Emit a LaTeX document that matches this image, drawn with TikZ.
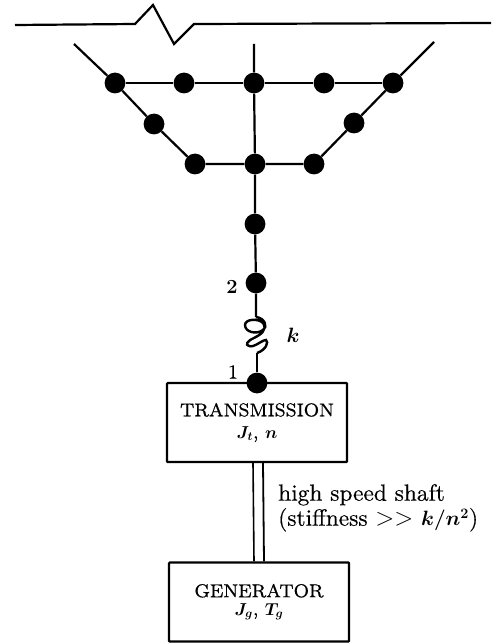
\documentclass[tikz,border=0pt]{standalone}
\usepackage{amsmath}
\usepackage{fontspec}
\newfontfamily\capfont{lmroman8-regular.otf}[FakeBold=0.7]
\newfontfamily\bodyfont{lmroman10-regular.otf}[FakeBold=0.4]
\tikzset{
  dot/.style={circle,fill=black,draw=none,inner sep=0pt,minimum size=20.8pt},
  wire/.style={line width=2.2pt,black},
  blockbox/.style={draw=black,line width=2.2pt,rounded corners=0.8pt,minimum width=180pt,minimum height=79pt,inner sep=0pt,align=center,font=\capfont\fontsize{18.6}{19}\selectfont},
  lab/.style={inner sep=0pt,font=\bodyfont\fontsize{23.4}{25}\selectfont,align=left}
}
\begin{document}
\begin{tikzpicture}[x=1pt,y=-1pt]
\useasboundingbox (0,0) rectangle (491,644);
% break line
\coordinate (b0) at (15,25); \coordinate (b1) at (135,24); \coordinate (b2) at (153,5);
\coordinate (b3) at (174,44); \coordinate (b4) at (194,24); \coordinate (b5) at (491,23);
\draw[wire,line join=miter] (b0)--(b1)--(b2)--(b3)--(b4)--(b5);
% free ends
\coordinate (la) at (74,44); \coordinate (ra) at (434,42); \coordinate (ca) at (254,44);
% boxes
\node[blockbox] (trans) at (257,422.5) {TRANSMISSION\\[3pt]$\boldsymbol{J_t}$, $\boldsymbol{n}$};
\node[blockbox] (gen) at (259,602) {GENERATOR\\[-1pt]$\boldsymbol{J_g}$, $\boldsymbol{T_g}$};
% dots
\node[dot] (t1) at (115,83) {};
\node[dot] (t2) at (184,83) {};
\node[dot] (t3) at (254,83) {};
\node[dot] (t4) at (324,83) {};
\node[dot] (t5) at (393,83) {};
\node[dot] (m1) at (154,124) {};
\node[dot] (m2) at (354,123) {};
\node[dot] (u1) at (195,164) {};
\node[dot] (u2) at (255,164) {};
\node[dot] (u3) at (314,164) {};
\node[dot] (c1) at (255,224) {};
\node[dot] (n2) at (256,283) {};
\node[dot] (n1) at (257,383) {};
\coordinate (sa) at (256,317); \coordinate (sb) at (257,353);
% connectors
\draw[wire] (la)--(t1) (ra)--(t5) (ca)--(t3);
\draw[wire] (t1)--(t2)--(t3)--(t4)--(t5);
\draw[wire] (t1)--(m1)--(u1)--(u2)--(u3)--(m2)--(t5);
\draw[wire] (t3)--(u2)--(c1)--(n2)--(sa);
\draw[wire] (sb)--(n1);
% spring
\draw[wire,line width=2.4pt] (sa) .. controls (265,318) and (268,327) .. (263,330)
  .. controls (256,335) and (245,332) .. (245,325)
  .. controls (245,319) and (258,318) .. (263,323)
  .. controls (268,330) and (260,335) .. (254,338)
  .. controls (247,341) and (245,345) .. (249,346)
  .. controls (254,348) and (262,340) .. (266,340)
  .. controls (269,342) and (266,350) .. (sb);
% shaft
\draw[wire,line width=1.6pt] ([xshift=-4pt]trans.south) -- ([xshift=-5pt]gen.north);
\draw[wire,line width=1.8pt] ([xshift=6pt]trans.south) -- ([xshift=5pt]gen.north);
% labels
\node[lab,font=\fontsize{20}{20}\selectfont\bfseries,anchor=center] (l2) at (232,287) {2};
\node[lab,anchor=center,font=\bodyfont\fontsize{20}{20}\selectfont] (l1) at (233,372) {1};
\node[lab,anchor=center,font=\bodyfont\fontsize{20.5}{24}\selectfont] (lk) at (293,335) {$\boldsymbol{k}$};
\node[lab,anchor=north west] (ls) at (278,484) {high speed shaft\\(stiffness $>>$ {\fontsize{20.5}{25}\selectfont$\boldsymbol{k/n^2}$})};
\end{tikzpicture}
\end{document}
